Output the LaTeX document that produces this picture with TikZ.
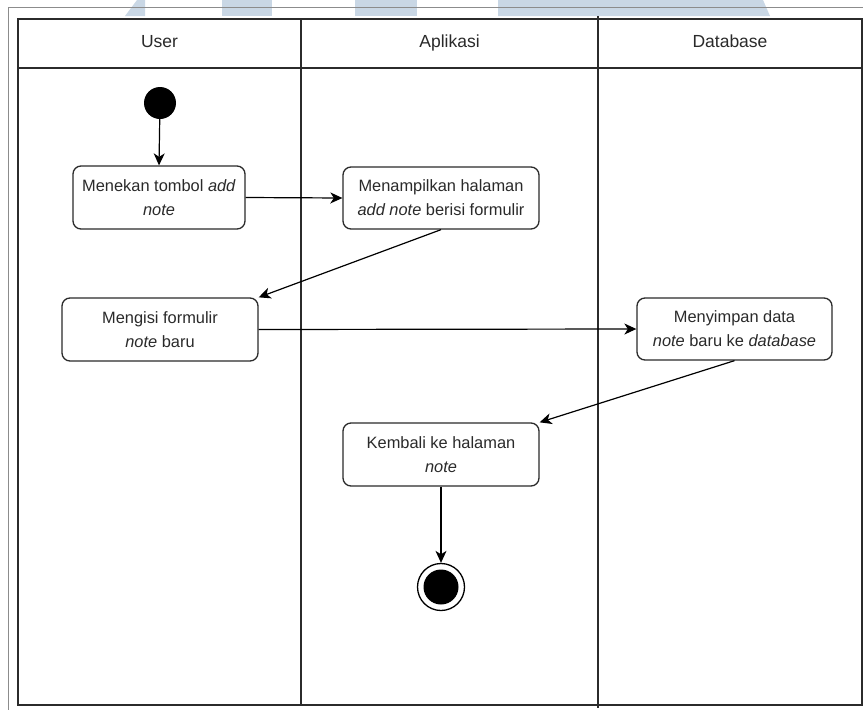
\documentclass[tikz,border=0pt]{standalone}
\usepackage{fontspec}
\setmainfont{Liberation Sans}
\usetikzlibrary{arrows.meta}
\definecolor{lineC}{HTML}{2B2B2B}
\definecolor{frameC}{HTML}{8C8C8C}
\definecolor{markC}{HTML}{C9D7E5}
\definecolor{txtC}{HTML}{2A2A2A}
\begin{document}
\begin{tikzpicture}[x=1pt,y=-1pt,
  every node/.style={font=\fontsize{16.4}{24}\selectfont, text=txtC},
  action/.style={draw=lineC, line width=1.3pt, rounded corners=8pt, fill=white,
    align=center, inner sep=0pt},
  lane/.style={draw=lineC, line width=1.3pt},
  flow/.style={draw=black, line width=1.2pt, -{Stealth[length=12pt,width=11pt,inset=3.5pt]}},
  startdot/.style={circle, fill=black, inner sep=0pt, minimum size=32pt},
  enddot/.style={circle, draw=black, line width=1.3pt, fill=white, inner sep=0pt, minimum size=47pt},
  lanehead/.style={font=\fontsize{17.5}{21}\selectfont, text height=13pt, text depth=4pt}
]
\useasboundingbox (0,0) rectangle (863,710);
\fill[white] (0,0) rectangle (863,710);

% light marks along the top edge
\fill[markC] (125,16) -- (137,0) -- (145,0) -- (145,16) -- cycle;
\fill[markC] (222,0) rectangle (272,16);
\fill[markC] (355,0) rectangle (417,16);
\fill[markC] (498,0) -- (763,0) -- (770,16) -- (498,16) -- cycle;

% outer frame
\draw[frameC, line width=0.9pt] (8.5,710) -- (8.5,7.5) -- (863,7.5);

% swimlane table
\draw[lane] (18,19) rectangle (862,705);
\draw[lane, line width=2.2pt] (18,68) -- (862,68);
\draw[lane] (301,19) -- (301,705);
\draw[lane] (598,16) -- (598,708);

% lane titles
\node[lanehead] (hUser) at (159.5,43) {User};
\node[lanehead] (hApp) at (449.5,43) {Aplikasi};
\node[lanehead] (hDb) at (730,43) {Database};

% activities
\node[startdot] (start) at (160,103) {};
\node[action, minimum width=172pt, minimum height=63pt] (tekan) at (159,197.5)
  {Menekan tombol \textit{add}\\\textit{note}};
\node[action, minimum width=196pt, minimum height=62pt] (tampil) at (441,198)
  {Menampilkan halaman\\\textit{add note} berisi formulir};
\node[action, minimum width=196pt, minimum height=63pt] (isi) at (160,329.5)
  {Mengisi formulir\\\textit{note} baru};
\node[action, minimum width=195pt, minimum height=62pt] (simpan) at (734.5,329)
  {Menyimpan data\\\textit{note} baru ke \textit{database}};
\node[action, minimum width=196pt, minimum height=63pt] (kembali) at (441,454.5)
  {Kembali ke halaman\\\textit{note}};
\node[enddot] (stop) at (441,587) {};
\node[startdot, minimum size=35pt] (stopcore) at (441,587) {};

% flows
\draw[flow] (start) -- (tekan.north);
\draw[flow] (tekan.east) -- (tampil.west);
\draw[flow] (tampil.south) -- (isi.north east);
\draw[flow] (isi.east) -- (simpan.west);
\draw[flow] (simpan.south) -- (kembali.north east);
\draw[flow] (kembali.south) -- (stop.north);
\end{tikzpicture}
\end{document}
